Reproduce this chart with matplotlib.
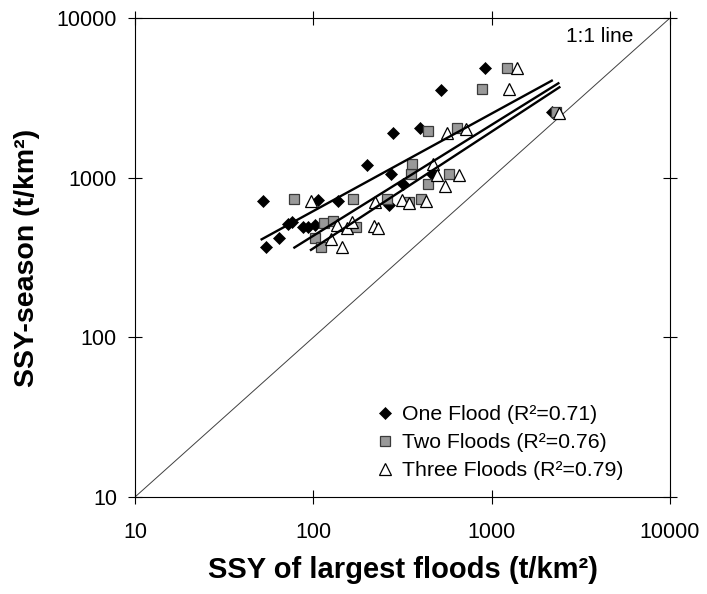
"""Seasonal SSY against SSY of the largest one, two and three floods (log-log)."""
import matplotlib
matplotlib.use("Agg")
import matplotlib.pyplot as plt
from matplotlib.ticker import FixedLocator, NullLocator

plt.rcParams["font.family"] = ["Liberation Sans", "DejaVu Sans"]

INK = "#000000"
SQUARE_FACE = "#999999"
SQUARE_EDGE = "#3a3a3a"

# --- data (t/km2) ---
one_x = [52, 54, 64.5, 72, 76, 87, 93, 102, 106.6, 137,
         200, 267, 271, 281, 317, 397, 461, 520, 922, 2173]
one_y = [715, 370, 421, 512, 530, 489, 489, 506, 725, 715,
         1209, 675, 1055, 1914, 909, 2039, 1055, 3540, 4842, 2590]

two_x = [78.3, 102, 110.5, 115, 129.5, 166, 173, 260, 346, 352,
         359, 400, 442, 442, 580, 637, 887, 1216, 2295]
two_y = [732, 421, 370, 518, 538, 732, 494, 732, 707, 1055,
         1219, 732, 909, 1960, 1055, 2056, 3590, 4886, 2590]

three_x = [97, 125.6, 135, 145.5, 155, 164, 219.6, 231, 222, 313, 346,
           427, 467, 492, 548, 659, 560, 718, 1256, 1393, 2398]
three_y = [715, 411, 506, 366, 486, 530, 499, 482, 707, 725, 692,
           715, 1213, 1040, 891, 1040, 1914, 2010, 3576, 4850, 2555]

# power-law trend lines (end points as drawn)
one_fit_x, one_fit_y = [51.3, 2173], [411, 4050]
two_fit_x, two_fit_y = [78.3, 2366], [365, 3900]
three_fit_x, three_fit_y = [97, 2398], [353, 3683]

one_to_one = [10, 10000]
ticks = [10, 100, 1000, 10000]
tick_labels = ["10", "100", "1000", "10000"]

labels = ["One Flood (R\u00b2=0.71)", "Two Floods (R\u00b2=0.76)",
          "Three Floods (R\u00b2=0.79)"]

fig = plt.figure(figsize=(7.07, 5.94), dpi=100)
ax = fig.add_axes([135 / 707, 97 / 594, 535 / 707, 479 / 594])
ax.set_xscale("log")
ax.set_yscale("log")
ax.set_xlim(10, 10000)
ax.set_ylim(10, 10000)

ax.plot(one_to_one, one_to_one, color="#404040", lw=0.7, zorder=1)

ax.plot(one_x, one_y, ls="none", marker="D", ms=6.5, mfc=INK, mec=INK,
        mew=0.5, label=labels[0], zorder=3)
ax.plot(two_x, two_y, ls="none", marker="s", ms=7.6, mfc=SQUARE_FACE,
        mec=SQUARE_EDGE, mew=0.9, label=labels[1], zorder=3)
ax.plot(three_x, three_y, ls="none", marker="^", ms=9, mfc="white",
        mec=INK, mew=0.9, label=labels[2], zorder=3)

for fx, fy in [(one_fit_x, one_fit_y), (two_fit_x, two_fit_y),
               (three_fit_x, three_fit_y)]:
    ax.plot(fx, fy, color=INK, lw=1.7, zorder=4)

ax.text(6209, 7640, "1:1 line", fontsize=15, ha="right", va="center")

for axis in (ax.xaxis, ax.yaxis):
    axis.set_major_locator(FixedLocator(ticks))
    axis.set_minor_locator(NullLocator())
ax.set_xticklabels(tick_labels)
ax.set_yticklabels(tick_labels)
ax.tick_params(which="major", direction="inout", length=10, width=0.8,
               labelsize=15.5, top=True, right=True, colors=INK)
ax.tick_params(axis="x", pad=13)
ax.tick_params(axis="y", pad=8)
for sp in ax.spines.values():
    sp.set_linewidth(0.8)
    sp.set_color(INK)

ax.set_xlabel("SSY of largest floods (t/km\u00b2)", fontsize=21,
              fontweight="bold", va="center")
ax.xaxis.set_label_coords(0.5, -0.152)
ax.set_ylabel("SSY-season (t/km\u00b2)", fontsize=20.5, fontweight="bold",
              va="center")
ax.yaxis.set_label_coords(-0.202, 0.5)

ax.legend(loc="lower left", bbox_to_anchor=(0.448, 0.035), frameon=False,
          fontsize=15.3, markerscale=0.9, handlelength=1.0, handletextpad=0.3,
          labelspacing=0.42, borderpad=0, borderaxespad=0)

fig.savefig("out.png", dpi=100)
